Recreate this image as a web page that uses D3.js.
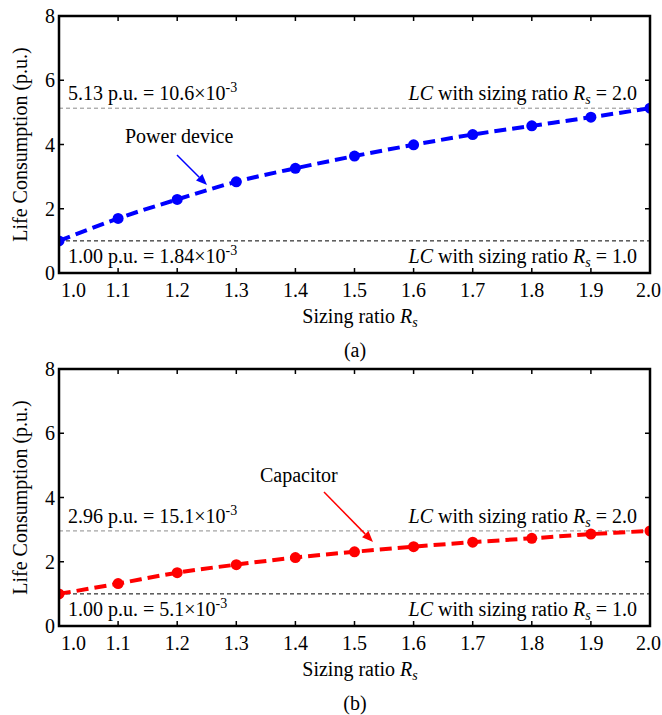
<!DOCTYPE html>
<html><head><meta charset="utf-8">
<script src="https://cdn.jsdelivr.net/npm/d3@7"></script>
<style>
body{margin:0;background:#fff;}
text{font-family:"Liberation Serif","Times New Roman",serif;fill:#000;}
</style></head>
<body><svg id="c" width="662" height="715"></svg>
<script>
const sizingRatio = [1.0,1.1,1.2,1.3,1.4,1.5,1.6,1.7,1.8,1.9,2.0];
const powerDeviceLC = [1.00,1.70,2.29,2.84,3.26,3.64,3.99,4.31,4.58,4.85,5.13];
const capacitorLC = [1.00,1.32,1.66,1.91,2.13,2.31,2.47,2.61,2.73,2.86,2.96];
const xTicks = [1.0,1.1,1.2,1.3,1.4,1.5,1.6,1.7,1.8,1.9,2.0];
const yTicks = [0,2,4,6,8];
const panelA = {top:16, label:"(a)", series:powerDeviceLC, color:"#0000ff", name:"Power device",
  upper:5.13, upperText:["5.13 p.u. = 10.6×10","-3"], lowerText:["1.00 p.u. = 1.84×10","-3"]};
const panelB = {top:369, label:"(b)", series:capacitorLC, color:"#ff0000", name:"Capacitor",
  upper:2.96, upperText:["2.96 p.u. = 15.1×10","-3"], lowerText:["1.00 p.u. = 5.1×10","-3"]};

const svg = d3.select("#c");
const L = 59, R = 650, H = 257;
const FS = 20;

function panel(p, idx, noteA, noteB){
  const g = svg.append("g");
  const x = d3.scaleLinear().domain([1.0,2.0]).range([L,R]);
  const y = d3.scaleLinear().domain([0,8]).range([p.top+H,p.top]);
  const cid = "clip"+idx;
  g.append("clipPath").attr("id",cid).append("rect").attr("x",L).attr("y",p.top).attr("width",R-L).attr("height",H);

  // reference lines
  g.append("line").attr("x1",L).attr("x2",R).attr("y1",y(p.upper)).attr("y2",y(p.upper))
    .attr("stroke","#8c8c8c").attr("stroke-width",1).attr("stroke-dasharray","4,3");
  g.append("line").attr("x1",L).attr("x2",R).attr("y1",y(1)).attr("y2",y(1))
    .attr("stroke","#000").attr("stroke-width",1).attr("stroke-dasharray","4,3");

  // annotations
  function leftNote(t, yy){
    const tx = g.append("text").attr("x",68).attr("y",yy).attr("font-size",FS);
    tx.append("tspan").text(t[0]);
    tx.append("tspan").attr("dy",-8).attr("font-size",14).text(t[1]);
  }
  function rightNote(val, yy){
    const tx = g.append("text").attr("x",637).attr("y",yy).attr("font-size",FS).attr("text-anchor","end");
    tx.append("tspan").attr("font-style","italic").text("LC");
    tx.append("tspan").text(" with sizing ratio ");
    tx.append("tspan").attr("font-style","italic").text("R");
    tx.append("tspan").attr("font-style","italic").attr("font-size",14).attr("dy",4).text("s");
    tx.append("tspan").attr("dy",-4).text(" = "+val);
  }
  leftNote(p.upperText, y(p.upper)-8);
  leftNote(p.lowerText, y(1)+22);
  rightNote("2.0", y(p.upper)-8);
  rightNote("1.0", y(1)+22);

  // data
  const pts = sizingRatio.map((v,i)=>[v,p.series[i]]);
  const line = d3.line().x(d=>x(d[0])).y(d=>y(d[1])).curve(d3.curveCatmullRom);
  const dg = g.append("g").attr("clip-path","url(#"+cid+")");
  dg.append("path").attr("d",line(pts)).attr("fill","none").attr("stroke",p.color)
    .attr("stroke-width",4).attr("stroke-dasharray","12,6");
  dg.selectAll("circle").data(pts).join("circle").attr("cx",d=>x(d[0])).attr("cy",d=>y(d[1]))
    .attr("r",5.5).attr("fill",p.color);

  // series label + arrow
  g.append("text").attr("x",noteA[0]).attr("y",noteA[1]).attr("font-size",FS).text(p.name);
  const [x1,y1,x2,y2] = noteB;
  const ang = Math.atan2(y2-y1,x2-x1), hl = 11, hw = 4.5;
  const bx = x2-hl*Math.cos(ang), by = y2-hl*Math.sin(ang);
  g.append("line").attr("x1",x1).attr("y1",y1).attr("x2",bx).attr("y2",by)
    .attr("stroke",p.color).attr("stroke-width",1.5);
  g.append("path").attr("d",`M${x2},${y2}L${bx-hw*Math.sin(ang)},${by+hw*Math.cos(ang)}L${bx+hw*Math.sin(ang)},${by-hw*Math.cos(ang)}Z`)
    .attr("fill",p.color);

  // axes (inward ticks, box)
  const tl = 5;
  const ax = g.append("g");
  xTicks.forEach(t=>{
    ax.append("line").attr("x1",x(t)).attr("x2",x(t)).attr("y1",p.top+H).attr("y2",p.top+H-tl).attr("stroke","#000").attr("stroke-width",1.5);
    ax.append("line").attr("x1",x(t)).attr("x2",x(t)).attr("y1",p.top).attr("y2",p.top+tl).attr("stroke","#000").attr("stroke-width",1.5);
    let lx = x(t), anchor = "middle";
    if (t===1.0){ lx = x(t)+2; anchor = "start"; }
    else if (t===2.0){ lx = 661; anchor = "end"; }
    ax.append("text").attr("x",lx).attr("y",p.top+H+24).attr("font-size",FS).attr("text-anchor",anchor).text(d3.format(".1f")(t));
  });
  yTicks.forEach(t=>{
    ax.append("line").attr("x1",L).attr("x2",L+tl).attr("y1",y(t)).attr("y2",y(t)).attr("stroke","#000").attr("stroke-width",1.5);
    ax.append("line").attr("x1",R).attr("x2",R-tl).attr("y1",y(t)).attr("y2",y(t)).attr("stroke","#000").attr("stroke-width",1.5);
    ax.append("text").attr("x",55).attr("y",y(t)).attr("dy","0.35em").attr("font-size",FS).attr("text-anchor","end").text(t);
  });
  ax.append("rect").attr("x",L).attr("y",p.top).attr("width",R-L).attr("height",H)
    .attr("fill","none").attr("stroke","#000").attr("stroke-width",2.5);

  // axis titles
  g.append("text").attr("transform",`translate(27,${p.top+H/2}) rotate(-90)`).attr("text-anchor","middle")
    .attr("font-size",FS).text("Life Consumption (p.u.)");
  const xt = g.append("text").attr("x",360).attr("y",p.top+H+50).attr("font-size",FS).attr("text-anchor","middle");
  xt.append("tspan").text("Sizing ratio ");
  xt.append("tspan").attr("font-style","italic").text("R");
  xt.append("tspan").attr("font-style","italic").attr("font-size",14).attr("dy",4).text("s");
  g.append("text").attr("x",355).attr("y",p.top+H+84).attr("font-size",FS).attr("text-anchor","middle").text(p.label);
}
panel(panelA, 0, [125,143], [177,155,207,185]);
panel(panelB, 1, [260,482], [324,492,373,542]);
</script></body></html>
